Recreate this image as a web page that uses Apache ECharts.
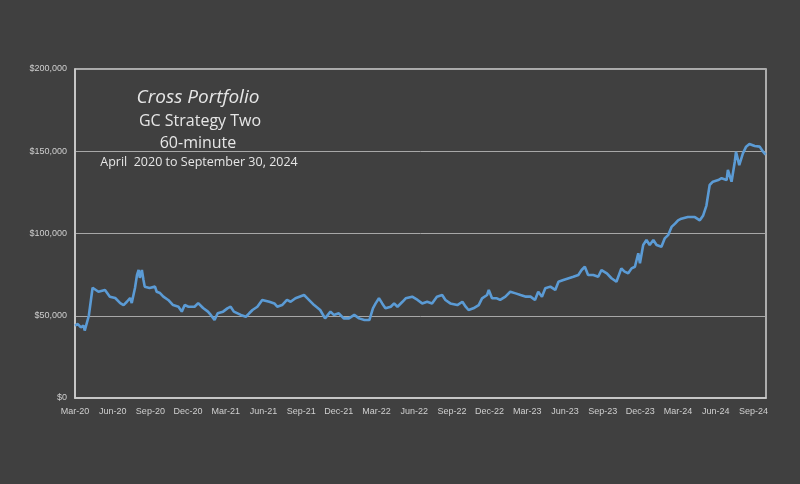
<!DOCTYPE html>
<html>
<head>
<meta charset="utf-8">
<script src="https://cdn.jsdelivr.net/npm/echarts@6/dist/echarts.min.js"></script>
<style>
html,body{margin:0;padding:0;background:#404040;}
#c{width:800px;height:484px;}
</style>
</head>
<body>
<div id="c"></div>
<script>
// Equity curve: dates and portfolio values (in $ thousands)
const dates = [
'2020-03-01','2020-03-08','2020-03-15','2020-03-22','2020-03-25','2020-04-04','2020-04-13','2020-04-27','2020-05-13','2020-05-25',
'2020-06-07','2020-06-19','2020-06-27','2020-07-05','2020-07-13','2020-07-17','2020-07-25','2020-07-30','2020-08-03','2020-08-06',
'2020-08-11','2020-08-15','2020-08-18','2020-08-30','2020-09-12','2020-09-16','2020-09-24','2020-10-02','2020-10-14','2020-10-26',
'2020-11-08','2020-11-16','2020-11-23','2020-12-02','2020-12-17','2020-12-26','2021-01-07','2021-01-19','2021-01-26','2021-02-04',
'2021-02-11','2021-02-23','2021-03-05','2021-03-13','2021-03-21','2021-04-07','2021-04-19','2021-04-27','2021-05-05','2021-05-17',
'2021-05-29','2021-06-15','2021-06-27','2021-07-04','2021-07-16','2021-07-28','2021-08-06','2021-08-18','2021-09-08','2021-09-16',
'2021-10-02','2021-10-17','2021-10-29','2021-11-11','2021-11-19','2021-12-01','2021-12-13','2021-12-26','2022-01-08','2022-01-20',
'2022-02-02','2022-02-13','2022-02-21','2022-02-27','2022-03-03','2022-03-07','2022-03-15','2022-03-23','2022-04-05','2022-04-13',
'2022-04-21','2022-05-03','2022-05-11','2022-05-27','2022-06-09','2022-06-20','2022-07-02','2022-07-14','2022-07-26','2022-08-08',
'2022-08-16','2022-08-28','2022-09-14','2022-09-26','2022-10-04','2022-10-11','2022-10-23','2022-11-05','2022-11-13','2022-11-25',
'2022-11-29','2022-12-07','2022-12-19','2022-12-27','2023-01-09','2023-01-21','2023-02-03','2023-02-14','2023-02-26','2023-03-09',
'2023-03-20','2023-03-28','2023-04-06','2023-04-14','2023-04-26','2023-05-08','2023-05-16','2023-05-28','2023-06-10','2023-06-21',
'2023-07-03','2023-07-11','2023-07-19','2023-07-27','2023-08-09','2023-08-21','2023-08-29','2023-09-11','2023-09-22','2023-10-04',
'2023-10-08','2023-10-16','2023-10-24','2023-11-02','2023-11-10','2023-11-18','2023-11-26','2023-11-30','2023-12-08','2023-12-16',
'2023-12-24','2024-01-02','2024-01-10','2024-01-22','2024-01-30','2024-02-07','2024-02-15','2024-02-23','2024-03-01','2024-03-09',
'2024-03-25','2024-04-11','2024-04-23','2024-05-01','2024-05-09','2024-05-17','2024-05-25','2024-06-07','2024-06-15','2024-06-27',
'2024-06-30','2024-07-09','2024-07-17','2024-07-20','2024-07-28','2024-08-06','2024-08-14','2024-08-22','2024-09-04','2024-09-16',
'2024-09-24','2024-09-30'
];
const values = [
44,45,43,44,41,50,67,64.6,65.6,61.6,
60.8,57.7,56.5,58.5,60.8,57.7,66.9,74.8,77.8,73,
77.8,71.7,67.7,66.9,67.7,64.6,63.8,61.6,59.6,56.5,
55.5,52.5,56.5,55.5,55.5,57.7,54.7,52.5,50.5,47.4,
51.5,52.5,54.5,55.5,52.5,50.5,49.4,51.5,53.5,55.5,
59.6,58.5,57.5,55.5,56.5,59.6,58.5,60.6,62.6,60.6,
56.5,53.5,48.4,52.5,50.5,51.5,48.4,48.4,50.5,48.4,
47.4,47.4,54.5,57.5,56.5,60.6,57.5,54.5,55.5,57.5,
55.5,58.5,60.6,61.6,59.6,57.5,58.5,57.5,61.6,62.6,
59.6,57.5,56.5,58.5,55.5,53.5,54.5,56.5,60.6,62.6,
65.7,60.6,60.6,59.6,61.6,64.6,63.6,62.6,61.6,61.6,
59.6,64.6,61.6,66.7,67.7,65.7,70.7,71.7,72.8,73.7,
74.8,77.8,79.8,74.8,74.8,73.7,77.8,75.8,72.8,70.7,
70.7,78.8,76.8,75.8,78.8,79.8,88,81.9,93,96,
93,96,93,92,97,99,104,106,108,109,
110,110,108,111,117,129.5,131.5,132.5,133.6,132.5,
138.6,131.5,143.6,149.7,141.6,148.7,152.8,154.4,153.2,152.8,
149.7,148
];
const xTickLabels = ['Mar-20','Jun-20','Sep-20','Dec-20','Mar-21','Jun-21','Sep-21','Dec-21','Mar-22','Jun-22',
'Sep-22','Dec-22','Mar-23','Jun-23','Sep-23','Dec-23','Mar-24','Jun-24','Sep-24'];
const yTicks = [0, 50000, 100000, 150000, 200000];
const titleLines = ['Cross Portfolio','GC Strategy Two','60-minute','April  2020 to September 30, 2024'];

// month offset from 1 Mar 2020
function monthOffset(s){
  const p = s.split('-').map(Number);
  const dim = new Date(p[0], p[1], 0).getDate();
  return (p[0]-2020)*12 + (p[1]-1) - 2 + (p[2]-1)/dim;
}
const seriesData = dates.map((d,i)=>[monthOffset(d), values[i]*1000]);

const font = 'Liberation Sans, Arial, sans-serif';
const tfont = 'Open Sans, sans-serif';
const chart = echarts.init(document.getElementById('c'), null, {renderer:'canvas'});
chart.setOption({
  backgroundColor:'#404040',
  animation:false,
  title:[
    {text:titleLines[0], left:198, top:88, textAlign:'center', padding:0,
     textStyle:{color:'#e6e6e6', fontSize:19, fontStyle:'italic', fontWeight:'normal', fontFamily:tfont}},
    {text:titleLines[1], left:200, top:113, textAlign:'center', padding:0,
     textStyle:{color:'#e6e6e6', fontSize:16, fontWeight:'normal', fontFamily:tfont}},
    {text:titleLines[2], left:198, top:135, textAlign:'center', padding:0,
     textStyle:{color:'#e6e6e6', fontSize:16, fontWeight:'normal', fontFamily:tfont}},
    {text:titleLines[3], left:199, top:156, textAlign:'center', padding:0,
     textStyle:{color:'#e6e6e6', fontSize:12.5, fontWeight:'normal', fontFamily:tfont}}
  ],
  grid:{left:75, right:34, top:69, bottom:86, show:true, borderColor:'#cfcfcf', borderWidth:1.5, containLabel:false},
  xAxis:{
    type:'value', min:0, max:55, interval:3,
    axisLine:{show:true, lineStyle:{color:'#cfcfcf', width:1.5}},
    axisTick:{show:false},
    splitLine:{show:false},
    axisLabel:{color:'#cfcfcf', fontSize:9, fontFamily:font, margin:9, showMaxLabel:false,
      formatter:function(v){ return (v%3===0 && xTickLabels[v/3]) ? xTickLabels[v/3] : ''; }}
  },
  yAxis:{
    type:'value', min:yTicks[0], max:yTicks[yTicks.length-1], interval:yTicks[1]-yTicks[0],
    axisLine:{show:true, lineStyle:{color:'#cfcfcf', width:1.5}},
    axisTick:{show:false},
    splitLine:{show:true, lineStyle:{color:'#a8a8a8', width:1}},
    axisLabel:{color:'#cfcfcf', fontSize:9, fontFamily:font, margin:8,
      formatter:function(v){ return '$' + v.toLocaleString('en-US'); }}
  },
  series:[{
    type:'line', data:seriesData, showSymbol:false, symbol:'none',
    lineStyle:{color:'#5b9bd5', width:2.6}, clip:true
  }]
});
</script>
</body>
</html>
